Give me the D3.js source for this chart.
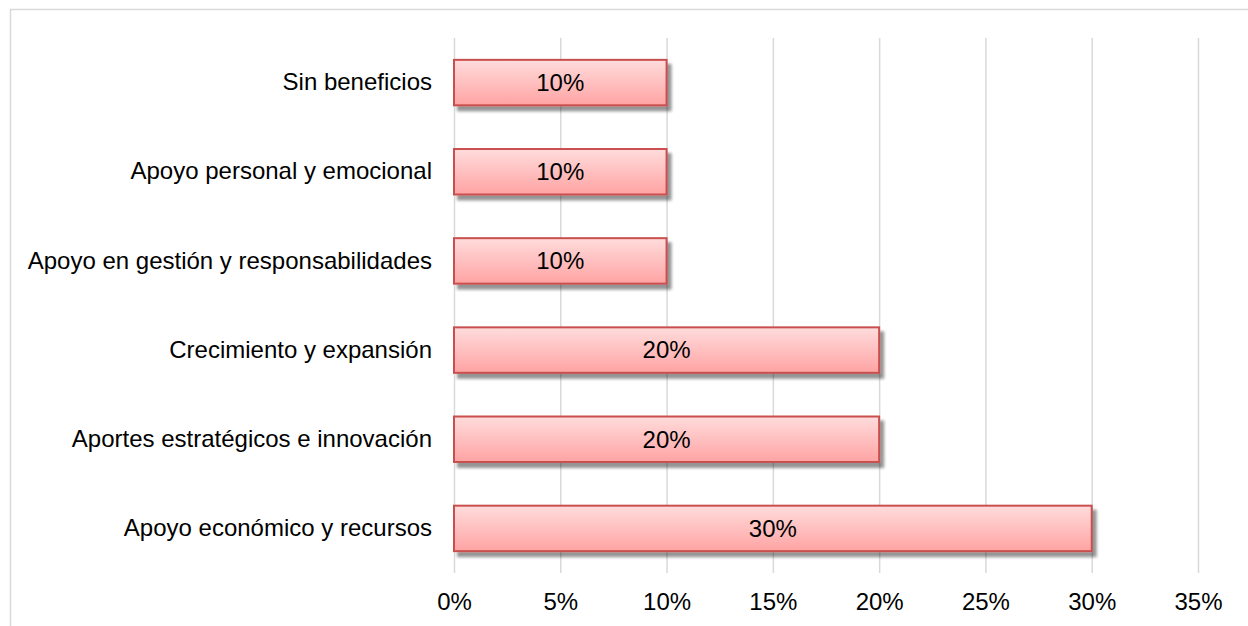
<!DOCTYPE html>
<html>
<head>
<meta charset="utf-8">
<script src="https://cdn.jsdelivr.net/npm/d3@7"></script>
<style>
  html, body { margin: 0; padding: 0; background: #fff; }
  svg { display: block; font-family: "Liberation Sans", Arial, sans-serif; }
</style>
</head>
<body>
<svg id="chart" width="1248" height="626"></svg>
<script>
// Categories, top to bottom
const categories = [
  "Sin beneficios",
  "Apoyo personal y emocional",
  "Apoyo en gestión y responsabilidades",
  "Crecimiento y expansión",
  "Aportes estratégicos e innovación",
  "Apoyo económico y recursos"
];
// Share of responses (fraction)
const values = [0.10, 0.10, 0.10, 0.20, 0.20, 0.30];
// X axis ticks
const xTicks = [0, 0.05, 0.10, 0.15, 0.20, 0.25, 0.30, 0.35];

const svg = d3.select("#chart");
const W = 1248, H = 626;
const FONT = 24;

const plot = { left: 454, right: 1198, top: 38, bottom: 573 };

const x = d3.scaleLinear().domain([0, 0.35]).range([plot.left, plot.right]);
const y = d3.scaleBand().domain(categories).range([plot.top, plot.bottom]).paddingInner(0.49).paddingOuter(0.245);

const fmt = d3.format(".0%");

// Chart frame
svg.append("path")
  .attr("d", `M10.5,${H} V9.5 H${W}`)
  .attr("fill", "none")
  .attr("stroke", "#d9d9d9")
  .attr("stroke-width", 1.5);

const defs = svg.append("defs");
const grad = defs.append("linearGradient")
  .attr("id", "barFill").attr("x1", 0).attr("y1", 0).attr("x2", 0).attr("y2", 1);
grad.append("stop").attr("offset", "0%").attr("stop-color", "#ffdcdc");
grad.append("stop").attr("offset", "100%").attr("stop-color", "#ffa3a3");

const shadow = defs.append("filter").attr("id", "shadow")
  .attr("x", "-5%").attr("y", "-30%").attr("width", "115%").attr("height", "170%");
shadow.append("feGaussianBlur").attr("in", "SourceAlpha").attr("stdDeviation", 1.8).attr("result", "b");
shadow.append("feOffset").attr("in", "b").attr("dx", 4).attr("dy", 5).attr("result", "o");
shadow.append("feComponentTransfer").attr("in", "o").attr("result", "s")
  .append("feFuncA").attr("type", "linear").attr("slope", 0.42);
const merge = shadow.append("feMerge");
merge.append("feMergeNode").attr("in", "s");
merge.append("feMergeNode").attr("in", "SourceGraphic");

// Vertical gridlines and percentage ticks
const xAxis = d3.axisBottom(x).tickValues(xTicks).tickFormat(fmt).tickSize(plot.bottom - plot.top).tickPadding(20);
const gx = svg.append("g")
  .attr("transform", `translate(0,${plot.top})`)
  .call(xAxis);
gx.select(".domain").remove();
gx.selectAll(".tick line").attr("stroke", "#d9d9d9").attr("stroke-width", 1.5);
gx.selectAll(".tick text")
  .attr("fill", "#000")
  .attr("font-size", FONT)
  .attr("font-family", "Liberation Sans, Arial, sans-serif");

// Category labels
const yAxis = d3.axisLeft(y).tickSize(0).tickPadding(22);
const gy = svg.append("g")
  .attr("transform", `translate(${plot.left},0)`)
  .call(yAxis);
gy.select(".domain").remove();
gy.selectAll(".tick text")
  .attr("fill", "#000")
  .attr("font-size", FONT)
  .attr("font-family", "Liberation Sans, Arial, sans-serif");

// Bars
const data = categories.map((c, i) => ({ c, v: values[i] }));
svg.append("g").selectAll("rect").data(data).join("rect")
  .attr("x", x(0))
  .attr("y", d => y(d.c))
  .attr("width", d => x(d.v) - x(0))
  .attr("height", y.bandwidth())
  .attr("fill", "url(#barFill)")
  .attr("stroke", "#c9504f")
  .attr("stroke-width", 2)
  .attr("filter", "url(#shadow)");

// Value labels
svg.append("g").selectAll("text").data(data).join("text")
  .attr("x", d => (x(0) + x(d.v)) / 2)
  .attr("y", d => y(d.c) + y.bandwidth() / 2)
  .attr("dy", "0.35em")
  .attr("text-anchor", "middle")
  .attr("font-size", FONT)
  .attr("fill", "#000")
  .text(d => fmt(d.v));
</script>
</body>
</html>
